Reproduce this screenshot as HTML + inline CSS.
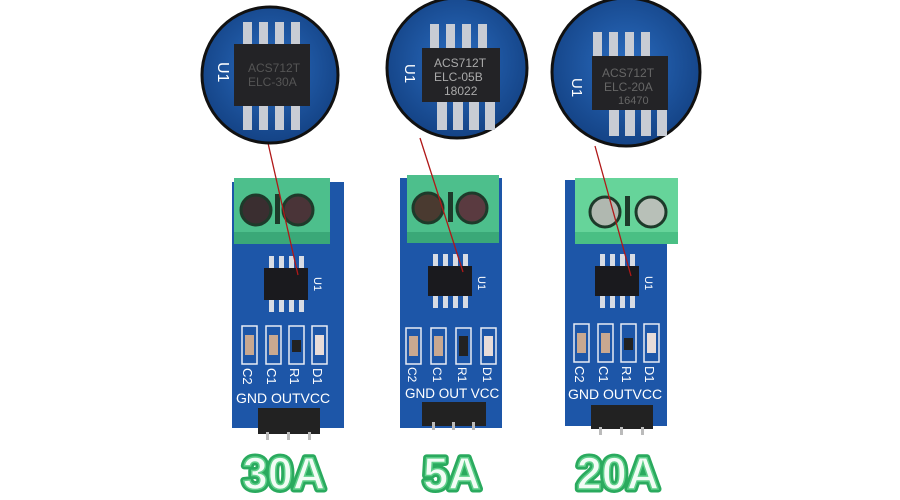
<!DOCTYPE html>
<html><head><meta charset="utf-8"><style>
html,body{margin:0;padding:0;background:#fff;}
svg{display:block}
text{font-family:"Liberation Sans",sans-serif;}
</style></head><body>
<svg width="900" height="500" viewBox="0 0 900 500" xmlns="http://www.w3.org/2000/svg">
<defs>
<radialGradient id="bg" cx="50%" cy="45%" r="60%">
<stop offset="0" stop-color="#2a6cc0"/><stop offset="1" stop-color="#123f80"/>
</radialGradient>
</defs>

<g transform="translate(232,182)">
<rect x="0" y="0" width="112" height="246" fill="#1d56a8"/>
<rect x="2" y="-4" width="96" height="66" fill="#4dbf8c"/>
<rect x="2" y="50" width="96" height="12" fill="#3aa878"/>
<circle cx="24" cy="28" r="15" fill="#3a2e30" stroke="#1d3a2a" stroke-width="3"/>
<circle cx="66" cy="28" r="15" fill="#4a3438" stroke="#1d3a2a" stroke-width="3"/>
<rect x="43" y="12" width="5" height="30" fill="#1d3a2a"/>
<g fill="#d8dce4"><rect x="37" y="74" width="5" height="14"/><rect x="47" y="74" width="5" height="14"/><rect x="57" y="74" width="5" height="14"/><rect x="67" y="74" width="5" height="14"/>
<rect x="37" y="116" width="5" height="14"/><rect x="47" y="116" width="5" height="14"/><rect x="57" y="116" width="5" height="14"/><rect x="67" y="116" width="5" height="14"/></g>
<rect x="32" y="86" width="44" height="32" fill="#1a1a1e"/>
<text transform="translate(82,95) rotate(90)" fill="#fff" font-size="11">U1</text>
<g fill="none" stroke="#e8ecf4" stroke-width="1.5"><rect x="10" y="144" width="15" height="38"/><rect x="34" y="144" width="15" height="38"/><rect x="57" y="144" width="15" height="38"/><rect x="80" y="144" width="15" height="38"/></g>
<g fill="#c9a890"><rect x="13" y="153" width="9" height="20"/><rect x="37" y="153" width="9" height="20"/></g>
<rect x="60" y="158" width="9" height="12" fill="#222"/><rect x="83" y="153" width="9" height="20" fill="#e8dcd8"/>
<g fill="#fff" font-size="13"><text transform="translate(11,186) rotate(90)">C2</text><text transform="translate(35,186) rotate(90)">C1</text><text transform="translate(58,186) rotate(90)">R1</text><text transform="translate(81,186) rotate(90)">D1</text></g>
<text x="4" y="221" fill="#fff" font-size="14">GND OUTVCC</text>
<rect x="26" y="226" width="62" height="26" fill="#222"/>
<g fill="#bbb"><rect x="34" y="250" width="3" height="8"/><rect x="55" y="250" width="3" height="8"/><rect x="76" y="250" width="3" height="8"/></g>
</g>

<g transform="translate(400,178)">
<rect x="0" y="0" width="102" height="250" fill="#1d56a8"/>
<rect x="7" y="-3" width="92" height="68" fill="#4dbf8c"/>
<rect x="7" y="54" width="92" height="11" fill="#3aa878"/>
<circle cx="28" cy="30" r="15" fill="#4a3a30" stroke="#1d3a2a" stroke-width="3"/>
<circle cx="72" cy="30" r="15" fill="#5a3a40" stroke="#1d3a2a" stroke-width="3"/>
<rect x="48" y="14" width="5" height="30" fill="#1d3a2a"/>
<g fill="#d8dce4"><rect x="33" y="76" width="5" height="14"/><rect x="43" y="76" width="5" height="14"/><rect x="53" y="76" width="5" height="14"/><rect x="63" y="76" width="5" height="14"/>
<rect x="33" y="116" width="5" height="14"/><rect x="43" y="116" width="5" height="14"/><rect x="53" y="116" width="5" height="14"/><rect x="63" y="116" width="5" height="14"/></g>
<rect x="28" y="88" width="44" height="30" fill="#1a1a1e"/>
<text transform="translate(78,98) rotate(90)" fill="#fff" font-size="11">U1</text>
<g fill="none" stroke="#e8ecf4" stroke-width="1.5"><rect x="6" y="150" width="15" height="36"/><rect x="31" y="150" width="15" height="36"/><rect x="56" y="150" width="15" height="36"/><rect x="81" y="150" width="15" height="36"/></g>
<g fill="#c9a890"><rect x="9" y="158" width="9" height="20"/><rect x="34" y="158" width="9" height="20"/></g>
<rect x="59" y="158" width="9" height="20" fill="#222"/><rect x="84" y="158" width="9" height="20" fill="#e8dcd8"/>
<g fill="#fff" font-size="12"><text transform="translate(8,189) rotate(90)">C2</text><text transform="translate(33,189) rotate(90)">C1</text><text transform="translate(58,189) rotate(90)">R1</text><text transform="translate(83,189) rotate(90)">D1</text></g>
<text x="5" y="220" fill="#fff" font-size="13.5">GND OUT VCC</text>
<rect x="22" y="224" width="64" height="24" fill="#222"/>
<g fill="#bbb"><rect x="32" y="244" width="3" height="8"/><rect x="52" y="244" width="3" height="8"/><rect x="72" y="244" width="3" height="8"/></g>
</g>

<g transform="translate(565,180)">
<rect x="0" y="0" width="102" height="246" fill="#1d56a8"/>
<rect x="10" y="-2" width="103" height="66" fill="#66d49a"/>
<rect x="10" y="52" width="103" height="12" fill="#4abf84"/>
<circle cx="40" cy="32" r="15" fill="#b0b8b0" stroke="#1d3a2a" stroke-width="3"/>
<circle cx="86" cy="32" r="15" fill="#b8c0b8" stroke="#1d3a2a" stroke-width="3"/>
<rect x="60" y="16" width="5" height="30" fill="#1d3a2a"/>
<g fill="#d8dce4"><rect x="35" y="74" width="5" height="14"/><rect x="45" y="74" width="5" height="14"/><rect x="55" y="74" width="5" height="14"/><rect x="65" y="74" width="5" height="14"/>
<rect x="35" y="114" width="5" height="14"/><rect x="45" y="114" width="5" height="14"/><rect x="55" y="114" width="5" height="14"/><rect x="65" y="114" width="5" height="14"/></g>
<rect x="30" y="86" width="44" height="30" fill="#1a1a1e"/>
<text transform="translate(80,96) rotate(90)" fill="#fff" font-size="11">U1</text>
<g fill="none" stroke="#e8ecf4" stroke-width="1.5"><rect x="9" y="144" width="15" height="38"/><rect x="33" y="144" width="15" height="38"/><rect x="56" y="144" width="15" height="38"/><rect x="79" y="144" width="15" height="38"/></g>
<g fill="#c9a890"><rect x="12" y="153" width="9" height="20"/><rect x="36" y="153" width="9" height="20"/></g>
<rect x="59" y="158" width="9" height="12" fill="#222"/><rect x="82" y="153" width="9" height="20" fill="#e8dcd8"/>
<g fill="#fff" font-size="13"><text transform="translate(10,186) rotate(90)">C2</text><text transform="translate(34,186) rotate(90)">C1</text><text transform="translate(57,186) rotate(90)">R1</text><text transform="translate(80,186) rotate(90)">D1</text></g>
<text x="3" y="219" fill="#fff" font-size="14">GND OUTVCC</text>
<rect x="26" y="225" width="62" height="24" fill="#222"/>
<g fill="#bbb"><rect x="34" y="247" width="3" height="8"/><rect x="55" y="247" width="3" height="8"/><rect x="76" y="247" width="3" height="8"/></g>
</g>

<g stroke="#b01818" stroke-width="1.3"><line x1="268" y1="143" x2="298" y2="275"/><line x1="420" y1="138" x2="463" y2="272"/><line x1="595" y1="146" x2="631" y2="276"/></g>

<g>
<circle cx="270" cy="75" r="68" fill="url(#bg)" stroke="#111" stroke-width="3"/>
<g fill="#c8ccd4"><rect x="243" y="22" width="9" height="24"/><rect x="259" y="22" width="9" height="24"/><rect x="275" y="22" width="9" height="24"/><rect x="291" y="22" width="9" height="24"/>
<rect x="243" y="104" width="9" height="26"/><rect x="259" y="104" width="9" height="26"/><rect x="275" y="104" width="9" height="26"/><rect x="291" y="104" width="9" height="26"/></g>
<rect x="234" y="44" width="76" height="62" fill="#232326"/>
<text x="248" y="72" fill="#555" font-size="12">ACS712T</text><text x="248" y="86" fill="#555" font-size="12">ELC-30A</text>
<text transform="translate(218,62) rotate(90)" fill="#fff" font-size="16">U1</text>
</g>
<g>
<circle cx="457" cy="68" r="70" fill="url(#bg)" stroke="#111" stroke-width="3"/>
<g fill="#c8ccd4"><rect x="430" y="24" width="9" height="26"/><rect x="446" y="24" width="9" height="26"/><rect x="462" y="24" width="9" height="26"/><rect x="478" y="24" width="9" height="26"/>
<rect x="437" y="100" width="10" height="30"/><rect x="453" y="100" width="10" height="30"/><rect x="469" y="100" width="10" height="30"/><rect x="485" y="100" width="10" height="30"/></g>
<rect x="422" y="48" width="78" height="54" fill="#232326"/>
<text x="434" y="67" fill="#aaa" font-size="12">ACS712T</text><text x="434" y="81" fill="#aaa" font-size="12">ELC-05B</text><text x="444" y="95" fill="#aaa" font-size="12">18022</text>
<text transform="translate(405,64) rotate(90)" fill="#fff" font-size="15">U1</text>
</g>
<g>
<circle cx="626" cy="72" r="74" fill="url(#bg)" stroke="#111" stroke-width="3"/>
<g fill="#c8ccd4"><rect x="593" y="32" width="9" height="28"/><rect x="609" y="32" width="9" height="28"/><rect x="625" y="32" width="9" height="28"/><rect x="641" y="32" width="9" height="28"/>
<rect x="609" y="108" width="10" height="28"/><rect x="625" y="108" width="10" height="28"/><rect x="641" y="108" width="10" height="28"/><rect x="657" y="108" width="10" height="28"/></g>
<rect x="592" y="56" width="76" height="54" fill="#232326"/>
<text x="602" y="77" fill="#666" font-size="12">ACS712T</text><text x="604" y="91" fill="#666" font-size="12">ELC-20A</text><text x="618" y="104" fill="#666" font-size="11">16470</text>
<text transform="translate(572,78) rotate(90)" fill="#fff" font-size="15">U1</text>
</g>

<g font-size="45" font-weight="bold" text-anchor="middle">
<g fill="none" stroke="#2aaa5e" stroke-width="7" stroke-linejoin="round"><text x="284" y="489">30A</text><text x="452" y="489">5A</text><text x="618" y="489">20A</text></g>
<g fill="#f2fcf5" stroke="#5fcf8a" stroke-width="1.5"><text x="284" y="489">30A</text><text x="452" y="489">5A</text><text x="618" y="489">20A</text></g>
</g>
</svg>
</body></html>
